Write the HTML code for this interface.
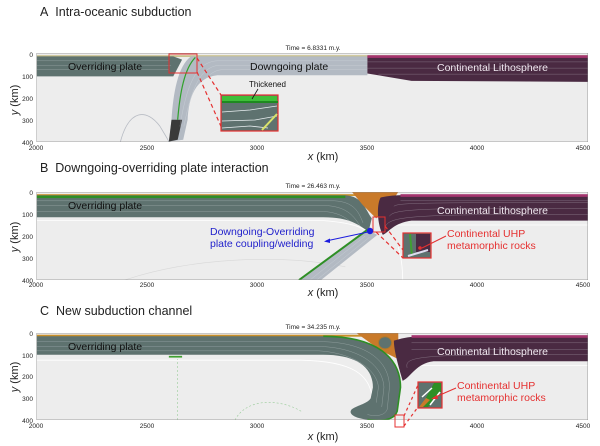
<!DOCTYPE html>
<html><head><meta charset="utf-8"><style>
body{margin:0;background:#fff;}
svg{display:block;font-family:"Liberation Sans",sans-serif;}
</style></head><body>
<svg width="600" height="446" viewBox="0 0 600 446" xmlns="http://www.w3.org/2000/svg">
<rect width="600" height="446" fill="#fff"/>

<!-- ================= PANEL A ================= -->
<text x="40" y="16" font-size="12.5" fill="#222">A&#160;&#160;Intra-oceanic subduction</text>
<text x="313" y="50" font-size="6.5" text-anchor="middle" fill="#222">Time = 6.8331 m.y.</text>
<svg x="36.5" y="53" width="551.5" height="89" viewBox="2000 0 2500 400" preserveAspectRatio="none">
  <rect x="2000" y="0" width="2500" height="400" fill="#ededed"/>
  <path d="M2380,400 C2420,250 2500,250 2560,330 C2590,380 2600,395 2600,400" fill="none" stroke="#b8bcc4" vector-effect="non-scaling-stroke" stroke-width="0.8"/>
  <rect x="2000" y="10" width="2500" height="8" fill="#c9c08a"/>
  <path d="M2000,15 L2620,15 L2660,30 L2620,105 L2000,105Z" fill="#5e726f"/>
  <path d="M2700,15 L3500,15 L3500,100 L2820,100 C2720,110 2690,200 2685,300 L2665,390 L2600,398 L2612,300 C2620,180 2640,60 2700,15Z" fill="#b3bac3"/>
  <path d="M2612,300 L2600,398 L2640,390 L2660,300Z" fill="#3a3a3a"/>
  <path d="M2640,300 C2650,180 2670,70 2720,20" fill="none" stroke="#2fa12b" stroke-width="1.2" vector-effect="non-scaling-stroke"/>
  <path d="M3500,15 L4500,15 L4500,130 L3700,125 L3500,92Z" fill="#4a2a42"/>
  <rect x="3500" y="10" width="1000" height="12" fill="#a4346e"/>
  <g fill="none" stroke="#e8eef0" stroke-width="0.8" vector-effect="non-scaling-stroke">
    <path d="M2000,35 L2600,35"/><path d="M2000,55 L2610,55"/><path d="M2000,75 L2600,75"/>
    <path d="M3500,35 L2820,35 C2720,40 2680,150 2650,330"/>
    <path d="M3500,55 L2830,55 C2740,60 2700,170 2668,330"/>
    <path d="M3500,75 L2840,75 C2760,80 2720,190 2690,300"/>
    <path d="M3500,40 L4500,40"/><path d="M3500,68 L4500,68"/><path d="M3550,95 L4500,95"/>
  </g>
  <rect x="2000" y="0" width="2500" height="400" fill="none" stroke="#888" stroke-width="0.8" vector-effect="non-scaling-stroke"/>
</svg>
<text x="68" y="70" font-size="10.5" fill="#111">Overriding plate</text>
<text x="250" y="70" font-size="10.5" fill="#111">Downgoing plate</text>
<text x="437" y="71" font-size="10.5" fill="#f0e8f0">Continental Lithosphere</text>
<rect x="169" y="54" width="28" height="19" fill="none" stroke="#e53030" stroke-width="1"/>
<line x1="197" y1="72" x2="223" y2="131" stroke="#e53030" stroke-width="1.2" stroke-dasharray="4,3"/>
<line x1="197" y1="58" x2="221" y2="95" stroke="#e53030" stroke-width="1.2" stroke-dasharray="4,3"/>
<rect x="221" y="95" width="57" height="36" fill="#5e726f" stroke="#e53030" stroke-width="1.2"/>
<rect x="222" y="96" width="55" height="5" fill="#3fbf3a"/>
<path d="M222,102 L278,102" stroke="#1e8a20" stroke-width="2"/>
<g fill="none" stroke="#e8eef0" stroke-width="0.8"><path d="M222,112 L250,110 L277,106"/><path d="M222,121 L255,120 L277,116"/><path d="M222,128 L250,126 L268,128"/></g>
<path d="M262,130 L277,114" stroke="#d8e36a" stroke-width="2"/>
<text x="249" y="87" font-size="8" fill="#111">Thickened</text>
<line x1="258" y1="89" x2="252" y2="99" stroke="#111" stroke-width="0.8"/>
<g font-size="6.5" fill="#222" text-anchor="end">
<text x="33" y="57">0</text><text x="33" y="79">100</text><text x="33" y="101">200</text><text x="33" y="123">300</text><text x="33" y="145">400</text></g>
<text transform="translate(18,100) rotate(-90)" font-size="11" text-anchor="middle" fill="#222"><tspan font-style="italic">y</tspan> (km)</text>
<g font-size="6.5" fill="#222" text-anchor="middle">
<text x="36" y="150">2000</text><text x="147" y="150">2500</text><text x="257" y="150">3000</text><text x="367" y="150">3500</text><text x="477" y="150">4000</text><text x="583" y="150">4500</text></g>
<text x="323" y="160" font-size="11" text-anchor="middle" fill="#222"><tspan font-style="italic">x</tspan> (km)</text>

<!-- ================= PANEL B ================= -->
<text x="40" y="172" font-size="12.5" fill="#222">B&#160;&#160;Downgoing-overriding plate interaction</text>
<text x="313" y="188" font-size="6.5" text-anchor="middle" fill="#222">Time = 26.463 m.y.</text>
<svg x="36.5" y="192" width="551.5" height="88" viewBox="2000 0 2500 400" preserveAspectRatio="none">
  <rect x="2000" y="0" width="2500" height="400" fill="#ededed"/>
  <path d="M2000,130 L3300,130 C3450,140 3500,170 3520,200 M3560,150 L4500,150 M3640,250 C3660,320 3660,380 3660,400" fill="none" stroke="#fff" stroke-width="0.8" vector-effect="non-scaling-stroke"/>
  <path d="M2400,400 C2700,300 3100,280 3400,340" fill="none" stroke="#d8d8d8" stroke-width="0.6" vector-effect="non-scaling-stroke"/>
  <rect x="2000" y="10" width="1500" height="8" fill="#c9902a"/>
  <path d="M2000,15 L3400,15 C3480,20 3490,80 3520,120 L3505,180 C3460,150 3420,115 3300,115 L2000,115Z" fill="#5e726f"/>
  <path d="M2000,22 L3400,22" stroke="#2e8f25" stroke-width="2.5" vector-effect="non-scaling-stroke"/>
  <path d="M3500,172 L3545,195 L3290,400 L3190,400Z" fill="#b3bac3"/>
  <path d="M3500,172 L3190,400" stroke="#2e8f25" stroke-width="2" vector-effect="non-scaling-stroke"/>
  <path d="M3430,0 L3640,0 L3600,60 L3540,120 L3480,60Z" fill="#c97a2a"/>
  <path d="M3560,25 Q3620,12 3700,15 L4500,15 L4500,130 L3700,130 C3620,140 3600,180 3570,195 C3545,150 3540,60 3560,25Z" fill="#4a2a42"/>
  <rect x="3650" y="10" width="850" height="12" fill="#a4346e"/>
  <g fill="none" stroke="#e8eef0" stroke-width="0.8" vector-effect="non-scaling-stroke">
    <path d="M2000,40 L3350,40 C3440,45 3460,90 3480,140"/><path d="M2000,62 L3320,62 C3410,70 3440,110 3470,160"/><path d="M2000,88 L3300,88 C3390,95 3420,130 3460,170"/>
    <path d="M3490,200 L3240,400"/><path d="M3510,205 L3270,400"/>
    <path d="M3650,40 L4500,40"/><path d="M3620,65 C3640,50 3700,48 4500,48"/><path d="M3600,110 C3620,80 3700,70 4500,75"/><path d="M3580,160 C3600,110 3680,100 4500,102"/>
  </g>
  <rect x="2000" y="0" width="2500" height="400" fill="none" stroke="#888" stroke-width="0.8" vector-effect="non-scaling-stroke"/>
</svg>
<text x="68" y="209" font-size="10.5" fill="#111">Overriding plate</text>
<text x="437" y="214" font-size="10.5" fill="#f0e8f0">Continental Lithosphere</text>
<rect x="373" y="217" width="12" height="15" fill="none" stroke="#e53030" stroke-width="1"/>
<line x1="385" y1="226" x2="403" y2="250" stroke="#e53030" stroke-width="1.2" stroke-dasharray="4,3"/>
<line x1="376" y1="232" x2="403" y2="258" stroke="#e53030" stroke-width="1.2" stroke-dasharray="4,3"/>
<rect x="403" y="233" width="28" height="25" fill="#5e726f" stroke="#e53030" stroke-width="1.2"/>
<rect x="416" y="234" width="14" height="18" fill="#4a2a42"/>
<path d="M410,234 L412,256" stroke="#3fa030" stroke-width="2"/>
<path d="M408,256 L428,250" stroke="#dde" stroke-width="2"/>
<circle cx="420" cy="248" r="1.8" fill="#e53030"/>
<circle cx="370" cy="231" r="3.2" fill="#1c1cde"/>
<line x1="368" y1="232" x2="326" y2="241" stroke="#1c1cde" stroke-width="1"/>
<path d="M324,241.5 L330,238.5 L330,243Z" fill="#1c1cde"/>
<text x="210" y="235" font-size="10.5" fill="#2222cc">Downgoing-Overriding</text>
<text x="210" y="247" font-size="10.5" fill="#2222cc">plate  coupling/welding</text>
<line x1="446" y1="236" x2="422" y2="248" stroke="#e53030" stroke-width="1"/>
<text x="447" y="237" font-size="10.5" fill="#e53030">Continental UHP</text>
<text x="447" y="249" font-size="10.5" fill="#e53030">metamorphic rocks</text>
<g font-size="6.5" fill="#222" text-anchor="end">
<text x="33" y="195">0</text><text x="33" y="217">100</text><text x="33" y="239">200</text><text x="33" y="261">300</text><text x="33" y="283">400</text></g>
<text transform="translate(18,237) rotate(-90)" font-size="11" text-anchor="middle" fill="#222"><tspan font-style="italic">y</tspan> (km)</text>
<g font-size="6.5" fill="#222" text-anchor="middle">
<text x="36" y="287">2000</text><text x="147" y="287">2500</text><text x="257" y="287">3000</text><text x="367" y="287">3500</text><text x="477" y="287">4000</text><text x="583" y="287">4500</text></g>
<text x="323" y="296" font-size="11" text-anchor="middle" fill="#222"><tspan font-style="italic">x</tspan> (km)</text>

<!-- ================= PANEL C ================= -->
<text x="40" y="315" font-size="12.5" fill="#222">C&#160;&#160;New subduction channel</text>
<text x="313" y="329" font-size="6.5" text-anchor="middle" fill="#222">Time = 34.235 m.y.</text>
<svg x="36.5" y="333" width="551.5" height="87" viewBox="2000 0 2500 400" preserveAspectRatio="none">
  <rect x="2000" y="0" width="2500" height="400" fill="#ededed"/>
  <path d="M2000,125 L3200,125 C3450,130 3500,200 3520,280 M3680,150 L4500,150" fill="none" stroke="#fff" stroke-width="0.8" vector-effect="non-scaling-stroke"/>
  <path d="M2640,400 L2640,120 M2900,400 C2950,300 3100,300 3200,360" fill="none" stroke="#9c9" stroke-width="0.6" stroke-dasharray="2,2" vector-effect="non-scaling-stroke"/>
  <rect x="2000" y="8" width="1600" height="9" fill="#c9902a"/>
  <path d="M3450,0 L3640,0 L3640,120 L3560,80Z" fill="#c97a2a"/>
  <path d="M2000,15 L3300,15 C3550,15 3650,120 3650,250 L3635,360 C3620,405 3560,405 3500,398 C3440,392 3410,370 3430,350 C3460,330 3500,325 3515,300 L3525,250 C3525,150 3440,100 3300,100 L2000,100Z" fill="#5e726f"/>
  <path d="M3300,15 C3550,15 3650,120 3650,250 L3635,360 C3620,405 3560,405 3500,398" fill="none" stroke="#2e8f25" stroke-width="1.6" vector-effect="non-scaling-stroke"/>
  <ellipse cx="3580" cy="45" rx="30" ry="28" fill="#5e726f" stroke="#b07a2a" stroke-width="1" vector-effect="non-scaling-stroke"/>
  <path d="M3620,35 Q3680,15 3750,15 L4500,15 L4500,130 L3800,130 C3720,140 3700,200 3660,220 C3640,150 3620,80 3620,35Z" fill="#4a2a42"/>
  <rect x="3700" y="10" width="800" height="12" fill="#a4346e"/>
  <rect x="2600" y="105" width="60" height="8" fill="#3fa030"/>
  <g fill="none" stroke="#e8eef0" stroke-width="0.8" vector-effect="non-scaling-stroke">
    <path d="M2000,40 L3300,40 C3500,45 3600,130 3600,250 L3590,350 C3580,380 3540,385 3500,375"/>
    <path d="M2000,62 L3290,62 C3470,70 3570,150 3575,250 L3565,340"/>
    <path d="M2000,82 L3280,82 C3440,92 3545,170 3550,250 L3540,320"/>
    <path d="M3700,45 L4500,45"/><path d="M3700,75 L4500,75"/><path d="M3680,160 C3670,110 3700,95 4500,100"/>
  </g>
  <rect x="2000" y="0" width="2500" height="400" fill="none" stroke="#888" stroke-width="0.8" vector-effect="non-scaling-stroke"/>
</svg>
<text x="68" y="350" font-size="10.5" fill="#111">Overriding plate</text>
<text x="437" y="355" font-size="10.5" fill="#f0e8f0">Continental Lithosphere</text>
<rect x="395" y="415" width="9" height="12" fill="none" stroke="#e53030" stroke-width="1"/>
<line x1="404" y1="416" x2="418" y2="385" stroke="#e53030" stroke-width="1.2" stroke-dasharray="3,3"/>
<line x1="404" y1="426" x2="418" y2="407" stroke="#e53030" stroke-width="1.2" stroke-dasharray="3,3"/>
<rect x="418" y="382" width="24" height="26" fill="#5e726f" stroke="#e53030" stroke-width="1.2"/>
<path d="M434,383 L441,383 L441,392 L428,407 L421,407Z" fill="#2e8f25"/>
<path d="M419,407 L426,398 L430,400 L423,407Z" fill="#c97a2a"/>
<path d="M422,397 L432,388" stroke="#fff" stroke-width="1.5"/>
<path d="M430,405 L440,392" stroke="#fff" stroke-width="1.5"/>
<line x1="456" y1="388" x2="433" y2="398" stroke="#e53030" stroke-width="1"/>
<path d="M431,399 L437,395 L438,399Z" fill="#e53030"/>
<text x="457" y="389" font-size="10.5" fill="#e53030">Continental UHP</text>
<text x="457" y="401" font-size="10.5" fill="#e53030">metamorphic rocks</text>
<g font-size="6.5" fill="#222" text-anchor="end">
<text x="33" y="336">0</text><text x="33" y="358">100</text><text x="33" y="379">200</text><text x="33" y="401">300</text><text x="33" y="423">400</text></g>
<text transform="translate(18,377) rotate(-90)" font-size="11" text-anchor="middle" fill="#222"><tspan font-style="italic">y</tspan> (km)</text>
<g font-size="6.5" fill="#222" text-anchor="middle">
<text x="36" y="428">2000</text><text x="147" y="428">2500</text><text x="257" y="428">3000</text><text x="367" y="428">3500</text><text x="477" y="428">4000</text><text x="583" y="428">4500</text></g>
<text x="323" y="440" font-size="11" text-anchor="middle" fill="#222"><tspan font-style="italic">x</tspan> (km)</text>
</svg>
</body></html>
